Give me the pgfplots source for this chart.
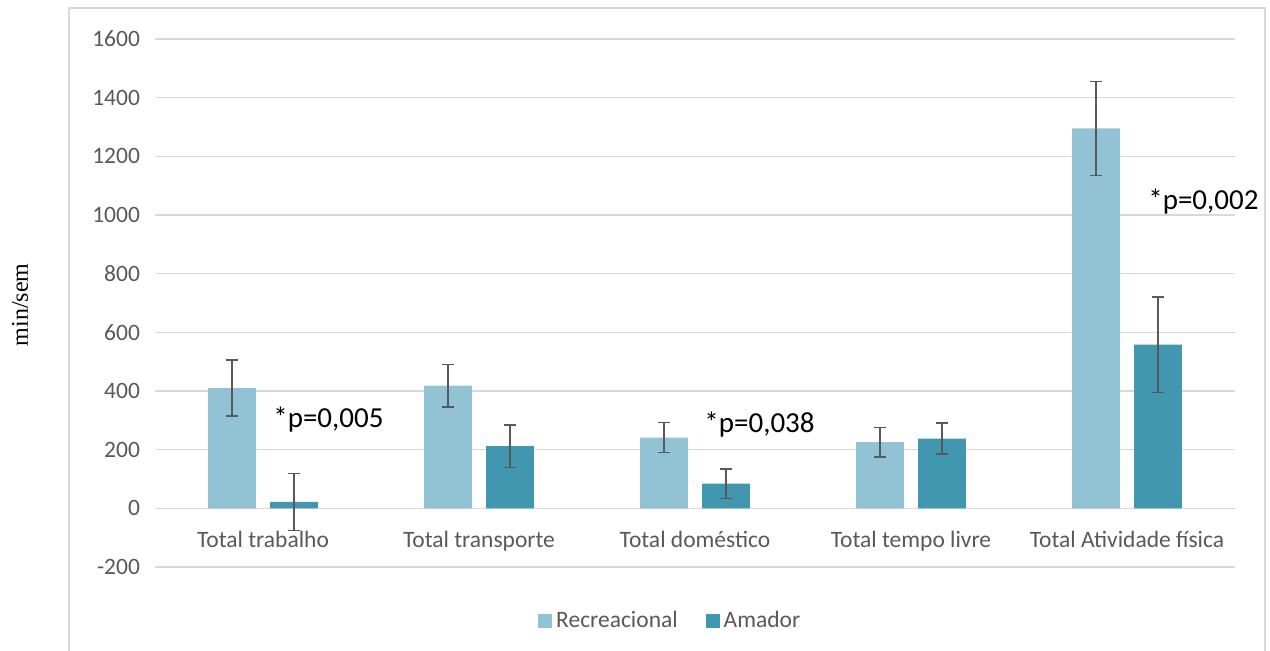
\documentclass[border=0pt]{standalone}
\usepackage{fontspec}
\setmainfont{Carlito}
\newfontfamily\seriffont{Liberation Serif}
\usepackage{pgfplots}
\pgfplotsset{compat=1.18}
\usepackage{pgfplotstable}

\definecolor{recre}{RGB}{146,195,212}
\definecolor{amador}{RGB}{66,151,176}
\definecolor{txtgray}{RGB}{89,89,89}
\definecolor{gridgray}{RGB}{217,217,217}
\definecolor{errgray}{RGB}{89,89,89}

% Mean weekly minutes and error half-widths per domain
\pgfplotstableread{
x y err
0 410 95
1 418 72
2 241 51
3 226 50
4 1295 160
}\recreacional

\pgfplotstableread{
x y err
0 22 97
1 212 73
2 84 51
3 238 52
4 558 163
}\amadortab

\begin{document}
\begin{tikzpicture}
\path[use as bounding box] (0,0) rectangle (635pt,-325.5pt);
\draw[gridgray, line width=1pt] (34.5pt,-330pt) -- (34.5pt,-4pt) -- (632.5pt,-4pt) -- (632.5pt,-330pt);
\begin{axis}[
  at={(77.5pt,-19.5pt)}, anchor=north west,
  scale only axis, width=540pt, height=264pt,
  xmin=-0.5, xmax=4.5, ymin=-200, ymax=1600,
  clip=false,
  ytick={-200,0,...,1600},
  xtick={0,...,4},
  xticklabels={Total trabalho, Total transporte, Total doméstico, Total tempo livre, Total Atividade física},
  axis line style={draw=none},
  major tick length=0pt,
  ymajorgrids, grid style={gridgray, line width=0.8pt},
  /pgf/number format/assume math mode=true,
  /pgf/number format/1000 sep={},
  tick label style={font=\fontsize{11.75}{14}\selectfont, text=txtgray},
  yticklabel style={xshift=-4pt},
  xticklabel style={yshift=21.5pt},
  ybar, bar width=0.222,
  error bars/y dir=both, error bars/y explicit,
  error bars/error bar style={errgray, line width=0.8pt},
  error bars/error mark options={errgray, line width=0.8pt, mark size=3pt, rotate=90},
  legend style={at={(0.478,-0.102)}, anchor=center, draw=none, legend columns=2,
    font=\fontsize{11.75}{14}\selectfont, text=txtgray,
    /tikz/every even column/.append style={column sep=12pt}},
  legend image code/.code={\draw[#1, draw=none] (0pt,-3.5pt) rectangle (7pt,3.5pt);},
]
\addplot[fill=recre, draw=none, bar shift=-0.1435] table[x=x, y=y, y error=err] {\recreacional};
\addplot[fill=amador, draw=none, bar shift=0.1435] table[x=x, y=y, y error=err] {\amadortab};
\legend{Recreacional, Amador}
\node[anchor=base west, inner sep=0pt, font=\fontsize{14.5}{17}\selectfont] at (axis cs:0.046,277) {*p=0,005};
\node[anchor=base west, inner sep=0pt, font=\fontsize{14.5}{17}\selectfont] at (axis cs:2.042,260) {*p=0,038};
\node[anchor=base west, inner sep=0pt, font=\fontsize{14.5}{17}\selectfont] at (axis cs:4.097,1020) {*p=0,002};
\end{axis}
\node[rotate=90, font=\seriffont\fontsize{12}{14}\selectfont] at (10pt,-152.5pt) {min/sem};
\end{tikzpicture}
\end{document}
